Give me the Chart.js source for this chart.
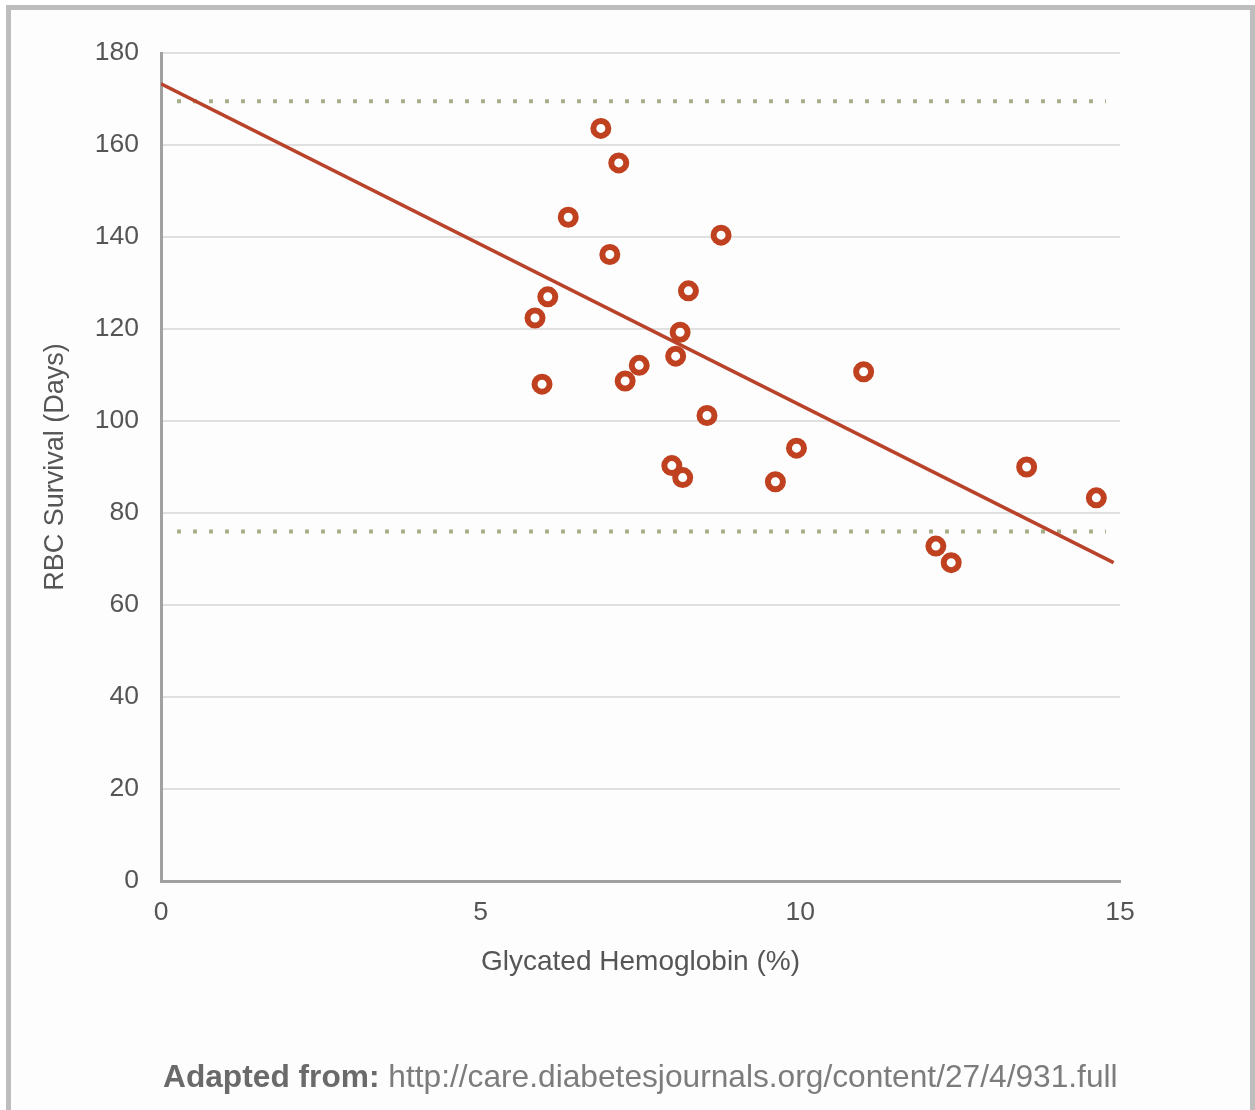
<!DOCTYPE html>
<html>
<head>
<meta charset="utf-8">
<script src="https://cdn.jsdelivr.net/npm/chart.js@4.4.1/dist/chart.umd.min.js"></script>
<style>
  html, body { margin: 0; padding: 0; background: #fff; }
  body { width: 1255px; height: 1110px; position: relative; overflow: hidden; font-family: "Liberation Sans", Arial, sans-serif; }
  #frame { position: absolute; left: 6px; top: 5px; width: 1239px; height: 1200px; border: 5px solid #bdbdbd; border-bottom: none; background: #fdfdfd; }
  #wrap { position: absolute; left: 0; top: 0; width: 1255px; height: 1110px; }
  #source { position: absolute; left: 163px; top: 1061px; font-size: 31.7px; line-height: 31px; color: #7c7c7c; white-space: nowrap; }
  #source b { color: #6a6a6a; }
</style>
</head>
<body>
<div id="frame"></div>
<div id="wrap"><canvas id="chart" width="1255" height="1110"></canvas></div>
<div id="source"><b>Adapted from:</b> http://care.diabetesjournals.org/content/27/4/931.full</div>
<script>
// glycated hemoglobin (%) vs RBC survival (days)
const hba1c = [6.88, 7.16, 6.37, 7.02, 8.76, 6.05, 5.85, 8.25, 8.12, 8.05, 7.48, 7.26, 5.96,
  10.99, 8.54, 9.94, 7.99, 8.16, 9.61, 13.54, 14.63, 12.12, 12.36];
const survival = [163.6, 156.1, 144.3, 136.2, 140.4, 127.0, 122.4, 128.3, 119.3, 114.1, 112.1, 108.7, 108.0,
  110.7, 101.2, 94.1, 90.3, 87.7, 86.8, 90.0, 83.3, 72.8, 69.2];

// fitted trend line ends
const trendX = [0, 14.9];
const trendY = [173.3, 69.2];

// reference band (dotted lines)
const bandX = [0.25, 14.78];
const bandUpper = 169.5;
const bandLower = 76;

const xTicks = [0, 5, 10, 15];
const yTicks = [0, 20, 40, 60, 80, 100, 120, 140, 160, 180];

const red = "#bf411f";
const tickColor = "#555";
const tickFont = { family: "'Liberation Sans', Arial, sans-serif", size: 26.5 };
const xTitleFont = { family: "'Liberation Sans', Arial, sans-serif", size: 28 };
const yTitleFont = { family: "'Liberation Sans', Arial, sans-serif", size: 27 };

const points = hba1c.map((x, i) => ({ x, y: survival[i] }));
const trend = trendX.map((x, i) => ({ x, y: trendY[i] }));
const dotted = (y) => bandX.map((x) => ({ x, y }));

const dottedStyle = {
  type: "line",
  borderColor: "#a6ae88",
  borderWidth: 4,
  borderDash: [4, 12],
  borderCapStyle: "butt",
  pointRadius: 0,
  fill: false,
};

new Chart(document.getElementById("chart"), {
  type: "scatter",
  data: {
    datasets: [
      {
        label: "Patients",
        data: points,
        pointRadius: 7.5,
        pointBorderWidth: 6,
        pointBorderColor: red,
        pointBackgroundColor: "#fff",
        pointHoverRadius: 7.5,
      },
      {
        type: "line",
        label: "Trend",
        data: trend,
        borderColor: "#b9432a",
        borderWidth: 3.5,
        pointRadius: 0,
        fill: false,
      },
      Object.assign({ label: "Upper", data: dotted(bandUpper) }, dottedStyle),
      Object.assign({ label: "Lower", data: dotted(bandLower) }, dottedStyle),
    ],
  },
  options: {
    responsive: false,
    animation: false,
    layout: { padding: { left: 0, top: 53, right: 135, bottom: 0 } },
    scales: {
      x: {
        type: "linear",
        min: 0,
        max: 15,
        afterFit: (s) => { s.height = 229; },
        afterBuildTicks: (s) => { s.ticks = xTicks.map((v) => ({ value: v })); },
        grid: { display: true, drawOnChartArea: false, drawTicks: false },
        border: { display: true, color: "#a0a0a0", width: 3 },
        ticks: { color: tickColor, font: tickFont, padding: 16, maxRotation: 0 },
        title: {
          display: true,
          text: "Glycated Hemoglobin (%)",
          color: tickColor,
          font: xTitleFont,
          padding: { top: 0, bottom: 131 },
        },
      },
      y: {
        type: "linear",
        min: 0,
        max: 180,
        afterFit: (s) => { s.width = 161; },
        afterBuildTicks: (s) => { s.ticks = yTicks.map((v) => ({ value: v })); },
        grid: { color: "#e0e0e0", lineWidth: 2, drawTicks: false },
        border: { display: true, color: "#a0a0a0", width: 3 },
        ticks: { color: tickColor, font: tickFont, padding: 22 },
        title: {
          display: true,
          text: "RBC Survival (Days)",
          color: tickColor,
          font: yTitleFont,
          padding: { top: 39, bottom: 0 },
        },
      },
    },
    plugins: {
      legend: { display: false },
      tooltip: { enabled: false },
    },
  },
});
</script>
</body>
</html>
